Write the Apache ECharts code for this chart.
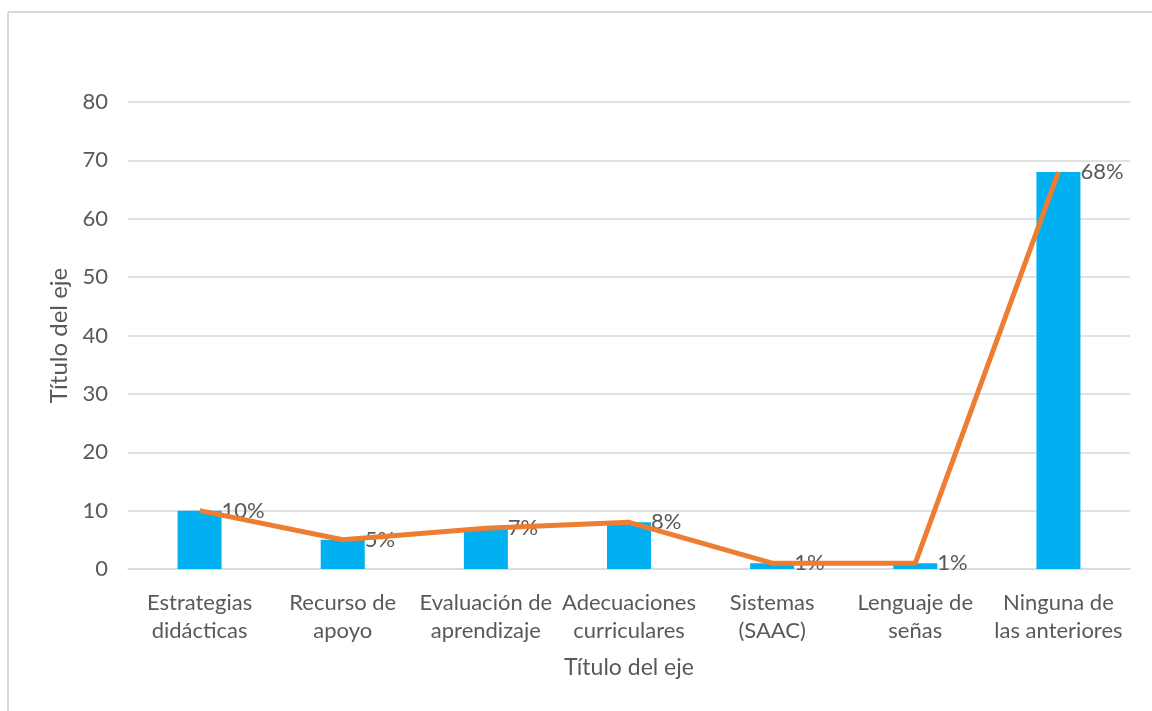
<!DOCTYPE html>
<html>
<head>
<meta charset="utf-8">
<script src="https://cdn.jsdelivr.net/npm/echarts@6/dist/echarts.min.js"></script>
<style>
  html, body { margin: 0; padding: 0; background: #fff; }
  #chart { width: 1152px; height: 711px; }
</style>
</head>
<body>
<div id="chart"></div>
<script>
// Categories and values (percent of respondents)
const categories = [
  'Estrategias\ndidácticas',
  'Recurso de\napoyo',
  'Evaluación de\naprendizaje',
  'Adecuaciones\ncurriculares',
  'Sistemas\n(SAAC)',
  'Lenguaje de\nseñas',
  'Ninguna de\nlas anteriores'
];
const barValues = [10, 5, 7, 8, 1, 1, 68];
const lineValues = [10, 5, 7, 8, 1, 1, 68];
const yTicks = { min: 0, max: 80, interval: 10 };
const axisTitle = 'Título del eje';

const FONT = 'Lato, "Open Sans", sans-serif';
const TEXT = '#595959';

const chart = echarts.init(document.getElementById('chart'), null, { renderer: 'canvas' });

chart.setOption({
  animation: false,
  backgroundColor: '#ffffff',
  textStyle: { fontFamily: FONT },
  grid: { left: 128, right: 22, top: 102, bottom: 142, containLabel: false },
  xAxis: {
    type: 'category',
    data: categories,
    name: axisTitle,
    nameLocation: 'middle',
    nameGap: 87,
    nameTextStyle: { color: TEXT, fontSize: 23, fontFamily: FONT },
    axisLine: { show: true, lineStyle: { color: '#d9d9d9', width: 1.5 } },
    axisTick: { show: false },
    axisLabel: {
      color: TEXT, fontSize: 22, fontFamily: FONT,
      lineHeight: 28, margin: 20, interval: 0
    }
  },
  yAxis: {
    type: 'value',
    min: yTicks.min,
    max: yTicks.max,
    interval: yTicks.interval,
    name: axisTitle,
    nameLocation: 'middle',
    nameGap: 56,
    nameRotate: 90,
    nameTextStyle: { color: TEXT, fontSize: 24, fontFamily: FONT },
    axisLine: { show: false },
    axisTick: { show: false },
    axisLabel: { color: TEXT, fontSize: 22, fontFamily: FONT, margin: 20 },
    splitLine: { lineStyle: { color: '#d9d9d9', width: 1.5 } }
  },
  series: [
    {
      type: 'bar',
      data: barValues,
      barWidth: 44,
      itemStyle: { color: '#00B0F0' },
      z: 2,
      label: {
        show: true,
        position: ['100%', 0],
        align: 'left',
        verticalAlign: 'middle',
        color: TEXT,
        fontSize: 22,
        fontFamily: FONT,
        formatter: p => p.value + '%'
      }
    },
    {
      type: 'line',
      data: lineValues,
      symbol: 'none',
      lineStyle: { color: '#ED7D31', width: 5 },
      z: 3
    }
  ],
  graphic: [
    { type: 'line', shape: { x1: 8, y1: 12, x2: 1152, y2: 12 }, style: { stroke: '#d9d9d9', lineWidth: 2 } },
    { type: 'line', shape: { x1: 8, y1: 12, x2: 8, y2: 711 }, style: { stroke: '#d9d9d9', lineWidth: 2 } }
  ]
});
</script>
</body>
</html>
